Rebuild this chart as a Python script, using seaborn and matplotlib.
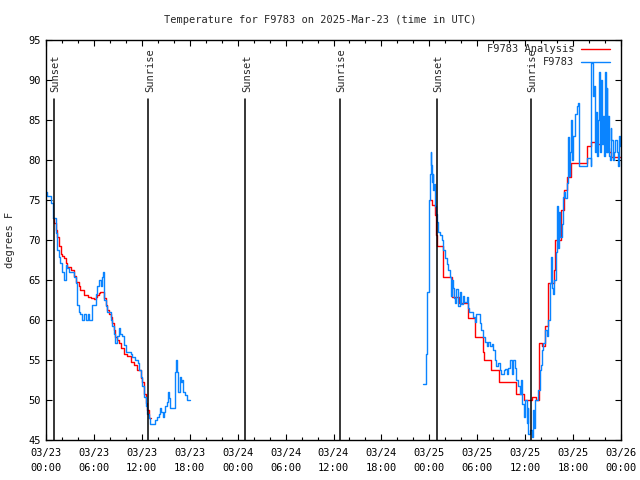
import matplotlib
matplotlib.use("Agg")
import matplotlib.pyplot as plt
import seaborn as sns
import pandas as pd

# hours since 2025-03-23 00:00 UTC
obs1_h = [0.0, 0.1, 0.6, 0.9, 1.2, 1.4, 1.6, 1.8, 2.05, 2.25, 2.5, 2.6, 2.9, 3.5, 3.7, 3.85, 3.9,
          4.1, 4.3, 4.55, 4.8, 5.0, 5.2, 5.4, 5.8, 6.2, 6.4, 6.6, 6.9, 7.05, 7.15, 7.26, 7.5, 7.7,
          8.1, 8.3, 8.5, 8.7, 8.9, 9.1, 9.3, 9.5, 9.8, 10.0, 10.6, 10.8, 11.2, 11.5, 11.65, 11.85,
          12.05, 12.27, 12.5, 12.7, 12.9, 13.0, 13.7, 13.85, 14.1, 14.3, 14.45, 14.6, 14.75, 14.9,
          15.1, 15.3, 15.45, 15.5, 16.1, 16.15, 16.3, 16.4, 16.5, 16.8, 16.95, 17.05, 17.1, 17.4,
          17.7, 18.0]
obs1_t = [76.0, 75.5, 74.6, 72.7, 70.9, 68.7, 67.9, 67.1, 66.0, 65.0, 66.9, 66.5, 66.0, 65.4, 64.6, 63.1, 61.9,
          61.0, 60.8, 60.0, 60.8, 60.0, 60.8, 60.0, 61.9, 63.3, 64.2, 65.0, 64.2, 65.4, 66.0, 62.5, 61.7, 61.0,
          60.0, 59.2, 58.3, 57.1, 58.0, 59.0, 58.2, 58.0, 56.9, 56.0, 55.8, 55.4, 55.0, 54.6, 53.75, 52.9,
          51.7, 50.4, 49.2, 48.3, 47.7, 47.0, 47.5, 47.9, 48.3, 49.0, 48.5, 47.9, 48.5, 49.2,
          49.8, 51.0, 50.2, 49.0, 50.6, 53.5, 55.0, 53.5, 51.0, 52.9, 52.2, 52.5, 51.0, 50.6,
          50.0, 50.0]

obs2_h = [47.2, 47.6, 47.75, 47.9, 48.0, 48.1, 48.2, 48.25, 48.3, 48.4, 48.5, 48.6, 48.7, 48.8, 49.0,
          49.1, 49.3, 49.55, 49.75, 49.95, 50.2, 50.4, 50.6, 50.7, 50.8, 51.0, 51.1, 51.2, 51.4, 51.6,
          51.8, 52.0, 52.2, 52.4, 52.7, 52.85, 53.0, 53.5, 53.7, 53.9, 54.3, 54.5, 54.75, 55.0, 55.2,
          55.4, 55.6, 55.8, 56.0, 56.2, 56.4, 56.6, 56.85, 57.0, 57.3, 57.5, 57.7, 57.9, 58.1, 58.3,
          58.5, 58.7, 58.9, 59.1, 59.35, 59.5, 59.6, 59.8, 60.0, 60.2, 60.3, 60.4, 60.6, 60.8, 61.0,
          61.1, 61.2, 61.65, 61.8, 62.0, 62.05, 62.25, 62.5, 62.7, 62.9, 63.1, 63.2, 63.3, 63.45, 63.6,
          63.8, 63.95, 64.1, 64.2, 64.4, 64.55, 64.7, 64.85, 65.0, 65.2, 65.4, 65.5, 65.6, 65.8, 65.9,
          66.0, 66.2, 66.45, 66.65, 66.8, 67.5, 67.7, 68.2, 68.3, 68.45, 68.6, 68.75, 68.9, 69.0, 69.1,
          69.3, 69.4, 69.5, 69.6, 69.8, 69.9, 70.0, 70.1, 70.2, 70.3, 70.4, 70.5, 70.6, 70.7, 70.8,
          70.95, 71.1, 71.3, 71.45, 71.6, 71.75, 71.9, 72.0]
obs2_t = [52.0, 55.8, 63.5, 71.25, 75.0, 78.3, 81.0, 79.4, 77.3, 78.3, 76.25, 77.0, 74.2, 73.2, 72.3,
          71.0, 70.6, 70.0, 68.75, 67.7, 67.0, 66.25, 65.4, 63.0, 65.0, 64.0, 62.7, 62.1, 63.9, 61.8,
          63.5, 62.0, 63.0, 62.2, 62.9, 61.5, 61.0, 60.4, 59.8, 60.8, 59.6, 58.8, 57.9, 57.2, 56.8,
          57.2, 56.8, 57.0, 56.25, 55.0, 54.2, 54.6, 53.75, 53.3, 53.75, 53.9, 53.3, 54.0, 55.0, 53.3,
          55.0, 54.0, 52.5, 51.7, 50.8, 52.5, 49.5, 47.9, 50.0, 47.1, 49.0, 45.8, 46.25, 45.4, 48.75,
          46.5, 50.0, 51.25, 53.75, 54.4, 56.25, 57.1, 58.75, 58.0, 60.0, 64.6, 67.9, 64.0, 63.3, 65.0,
          68.5, 74.2, 69.0, 73.5, 70.4, 72.0, 75.4, 76.0, 75.3, 77.1, 82.9, 78.0, 81.0, 85.0, 80.0,
          83.0, 85.8, 86.7, 87.1, 79.2, 79.2, 80.2, 79.2, 92.1, 88.0, 89.2, 81.0, 86.0, 80.5, 85.0,
          91.0, 81.0, 90.0, 82.0, 85.5, 80.5, 91.0, 81.0, 89.0, 81.0, 85.5, 80.5, 80.0, 84.0, 82.5,
          80.0, 81.0, 82.5, 81.0, 79.2, 83.0, 81.7, 82.0]

ana1_h = [0.9, 1.0, 1.2, 1.4, 1.6, 1.85, 2.05, 2.25, 2.45, 2.6, 3.1, 3.5, 3.7, 4.1, 4.3, 4.75, 5.2,
          5.6, 6.0, 6.2, 6.4, 6.6, 6.8, 7.26, 7.5, 7.7, 7.9, 8.1, 8.3, 8.5, 8.7, 8.95, 9.1, 9.35,
          9.8, 10.2, 10.6, 11.0, 11.45, 11.85, 12.05, 12.27, 12.5, 12.7, 12.9, 13.15]
ana1_t = [72.7, 72.1, 71.2, 70.4, 69.2, 68.25, 68.0, 67.7, 67.1, 66.6, 66.3, 65.5, 64.8, 64.2, 63.7, 63.1, 62.9,
          62.8, 62.6, 62.9, 63.1, 63.4, 63.5, 62.7, 61.9, 61.2, 60.8, 60.4, 59.6, 58.8, 57.9, 57.5, 57.1, 56.5,
          55.8, 55.5, 54.8, 54.4, 53.75, 52.7, 52.3, 50.8, 49.6, 48.75, 47.8, 47.8]

ana2_h = [48.1, 48.3, 48.7, 48.8, 48.9, 49.7, 49.75, 50.8, 51.75, 52.8, 53.7, 54.75, 54.9, 55.7, 56.75,
          58.9, 59.8, 60.9, 61.3, 61.7, 62.05, 62.5, 62.85, 63.6, 63.74, 64.5, 64.8, 65.2, 65.8, 67.7,
          68.3, 69.0, 69.5, 70.0, 70.3, 70.5, 70.8, 72.0]
ana2_t = [75.0, 74.4, 73.1, 70.6, 69.2, 67.5, 65.4, 62.9, 62.1, 60.2, 57.9, 56.0, 55.0, 53.75, 52.3,
          50.8, 50.0, 50.4, 50.0, 57.1, 56.7, 59.2, 64.6, 66.25, 70.0, 73.75, 76.25, 77.9, 79.6, 81.7,
          82.3, 82.0, 82.1, 81.8, 81.5, 81.0, 80.4, 80.4]

sunset_h = [1.0, 24.97, 48.95]
sunrise_h = [12.8, 36.77, 60.73]
xtick_labels = ["03/23\n00:00", "03/23\n06:00", "03/23\n12:00", "03/23\n18:00",
                "03/24\n00:00", "03/24\n06:00", "03/24\n12:00", "03/24\n18:00",
                "03/25\n00:00", "03/25\n06:00", "03/25\n12:00", "03/25\n18:00",
                "03/26\n00:00"]

sns.set_style("ticks")
plt.rcParams['font.family'] = ['DejaVu Sans Mono']
plt.rcParams['font.size'] = 7.5

fig = plt.figure(figsize=(6.4, 4.8), dpi=100)
ax = fig.add_axes([46 / 640, 40 / 480, 575 / 640, 400 / 480])

red = "#ff0000"
blue = "#0a84ff"

segs = [
    (ana1_h, ana1_t, red, "F9783 Analysis"),
    (ana2_h, ana2_t, red, None),
    (obs1_h, obs1_t, blue, "F9783"),
    (obs2_h, obs2_t, blue, None),
]
for hh, tt, col, lab in segs:
    df = pd.DataFrame({"hour": hh, "temp": tt})
    sns.lineplot(data=df, x="hour", y="temp", ax=ax, color=col, lw=1.0,
                 drawstyle="steps-post", estimator=None, sort=False, label=lab)

for h in sunset_h:
    ax.plot([h, h], [45, 87.6], color="black", lw=1.1)
    ax.text(h + 0.2, 88.5, "Sunset", rotation=90, ha="center", va="bottom")
for h in sunrise_h:
    ax.plot([h, h], [45, 87.6], color="black", lw=1.1)
    ax.text(h + 0.2, 88.5, "Sunrise", rotation=90, ha="center", va="bottom")

ax.set_xlim(0, 72)
ax.set_ylim(45, 95)
ax.set_xticks(range(0, 73, 6))
ax.set_xticklabels(xtick_labels, linespacing=1.55)
ax.set_xticks(range(0, 73, 2), minor=True)
ax.set_yticks(range(45, 96, 5))
ax.tick_params(which="both", direction="in", top=True, right=True, colors="black")
ax.tick_params(which="major", length=4.5, width=0.8, pad=4)
ax.tick_params(axis="x", which="major", pad=6)
ax.tick_params(which="minor", length=2.5, width=0.8)
for s in ax.spines.values():
    s.set_visible(True)
    s.set_linewidth(1.0)
    s.set_color("black")

ax.set_xlabel("")
ax.set_ylabel("degrees F", labelpad=9)
fig.text(0.5, 1 - 20 / 480, "Temperature for F9783 on 2025-Mar-23 (time in UTC)",
         ha="center", va="center", fontsize=7.5)

leg = ax.legend(loc="upper right", bbox_to_anchor=(1 - 4 / 575, 1 + 3 / 400),
                markerfirst=False, frameon=False, handlelength=2.8,
                borderaxespad=0.3, labelspacing=0.3, handletextpad=0.6)

fig.savefig("out.png", dpi=100)
